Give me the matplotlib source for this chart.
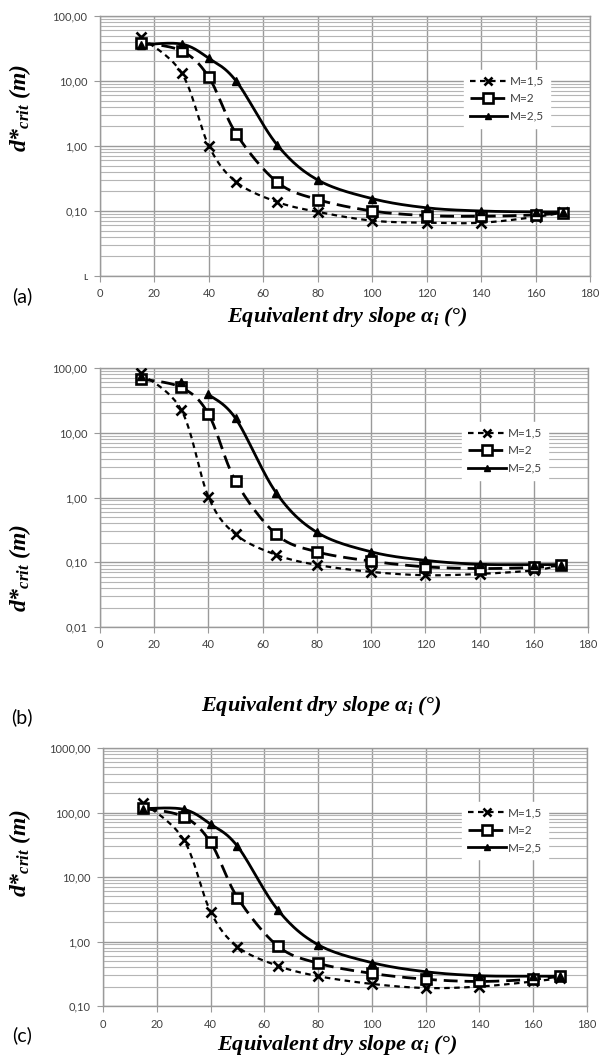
import numpy as np
import matplotlib
matplotlib.use('Agg')
import matplotlib.pyplot as plt
from matplotlib.lines import Line2D

plt.rcParams['mathtext.fontset'] = 'custom'
plt.rcParams['mathtext.it'] = 'Liberation Serif:bold:italic'
plt.rcParams['mathtext.rm'] = 'Liberation Serif:bold:italic'
plt.rcParams['mathtext.bf'] = 'Liberation Serif:bold:italic'

# data
slope = [15, 30, 40, 50, 65, 80, 100, 120, 140, 160, 170]
series_names = ['M=1,5', 'M=2', 'M=2,5']

a_m15 = [47, 13.3, 1.0, 0.28, 0.138, 0.097, 0.071, 0.066, 0.066, 0.081, 0.095]
a_m20 = [39, 29, 11.4, 1.55, 0.28, 0.15, 0.10, 0.085, 0.083, 0.087, 0.094]
a_m25 = [36, 37, 22.3, 10, 1.05, 0.30, 0.155, 0.112, 0.10, 0.097, 0.097]

b_m15 = [83, 22.5, 1.02, 0.27, 0.13, 0.091, 0.071, 0.063, 0.066, 0.075, 0.09]
b_m20 = [68, 50, 19.5, 1.8, 0.27, 0.145, 0.104, 0.085, 0.08, 0.083, 0.09]
b_m25 = [75, 61, 39, 16.7, 1.18, 0.29, 0.145, 0.107, 0.093, 0.092, 0.092]

c_m15 = [142, 38, 2.9, 0.83, 0.42, 0.29, 0.22, 0.19, 0.2, 0.24, 0.27]
c_m20 = [116, 86, 34.5, 4.8, 0.85, 0.46, 0.32, 0.26, 0.24, 0.26, 0.29]
c_m25 = [115, 112, 66, 30, 3.1, 0.89, 0.47, 0.34, 0.295, 0.29, 0.29]

a_ticks = [0.01, 0.1, 1, 10, 100]
a_ticklabels = ['\u029f', '0,10', '1,00', '10,00', '100,00']
b_ticks = [0.01, 0.1, 1, 10, 100]
b_ticklabels = ['0,01', '0,10', '1,00', '10,00', '100,00']
c_ticks = [0.1, 1, 10, 100, 1000]
c_ticklabels = ['0,10', '1,00', '10,00', '100,00', '1000,00']

panels = [
    ('(a)', [a_m15, a_m20, a_m25], a_ticks, a_ticklabels, 0),
    ('(b)', [b_m15, b_m20, b_m25], b_ticks, b_ticklabels, 2),
    ('(c)', [c_m15, c_m20, c_m25], c_ticks, c_ticklabels, 0),
]

styles = [
    dict(ls=(0, (2.5, 2)), lw=1.6, marker='x', ms=6.5, mew=1.9, mfc='black'),
    dict(ls=(0, (5, 2.5)), lw=2.0, marker='s', ms=7.5, mew=1.9, mfc='white'),
    dict(ls='-', lw=2.0, marker='^', ms=5.5, mew=1.0, mfc='black'),
]


def smooth(x, y, n=25):
    # Excel style smoothed line (Catmull-Rom bezier) in log space
    pts = np.column_stack([np.asarray(x, float), np.log10(y)])
    ext = np.vstack([pts[0], pts, pts[-1]])
    t = np.linspace(0, 1, n)[:, None]
    out = []
    for i in range(len(pts) - 1):
        p0, p1, p2, p3 = ext[i], ext[i + 1], ext[i + 2], ext[i + 3]
        c1 = p1 + (p2 - p0) / 6
        c2 = p2 - (p3 - p1) / 6
        seg = (1 - t) ** 3 * p1 + 3 * (1 - t) ** 2 * t * c1 + 3 * (1 - t) * t ** 2 * c2 + t ** 3 * p2
        out.append(seg if i == 0 else seg[1:])
    arr = np.vstack(out)
    return arr[:, 0], 10 ** arr[:, 1]


W, H = 599, 1059
fig = plt.figure(figsize=(W / 100, H / 100), dpi=100)

# axes boxes in pixels: left, top, right, bottom
boxes = [(100, 16, 590, 276), (100, 368, 588, 627), (103, 748, 587, 1006)]
ylab_y = [108, 568, 853]
xlab = [(347, 317), (321, 706), (337, 1045)]
plab_y = [296, 717, 1035]
grid_c = '#9a9a9a'

for k, (tag, ys, yt, ytl, start25) in enumerate(panels):
    l, t, r, b = boxes[k]
    ax = fig.add_axes([l / W, 1 - b / H, (r - l) / W, (b - t) / H])
    ax.set_yscale('log')
    ax.set_xlim(0, 180)
    ax.set_ylim(yt[0], yt[-1])
    ax.set_xticks(range(0, 181, 20))
    ax.set_yticks(yt)
    ax.set_yticklabels(ytl)
    ax.grid(True, which='major', color=grid_c, lw=1.0)
    ax.grid(True, which='minor', axis='y', color='#b5b5b5', lw=0.8)
    ax.tick_params(which='minor', length=0)
    ax.tick_params(which='major', length=4, direction='out', color=grid_c,
                   labelsize=8, labelcolor='#404040', pad=5)
    for lab in ax.get_xticklabels() + ax.get_yticklabels():
        lab.set_fontfamily('Lato')
    for sp in ax.spines.values():
        sp.set_color(grid_c)
        sp.set_linewidth(1.0)
    ax.set_axisbelow(True)

    handles = []
    for j, vals in enumerate(ys):
        st = styles[j]
        s0 = start25 if j == 2 else 0
        sx, sy = smooth(slope[s0:], vals[s0:])
        ax.plot(sx, sy, color='black', ls=st['ls'], lw=st['lw'], zorder=3)
        ax.plot(slope, vals, ls='none', color='black', marker=st['marker'],
                ms=st['ms'], mew=st['mew'], mfc=st['mfc'], mec='black', zorder=4)
        handles.append(Line2D([], [], color='black', ls=st['ls'], lw=st['lw'],
                              marker=st['marker'], ms=st['ms'] - 1, mew=st['mew'],
                              mfc=st['mfc'], mec='black'))
    leg = ax.legend(handles, series_names, loc='upper left',
                    bbox_to_anchor=(0.73, 0.815), frameon=True, fancybox=False,
                    framealpha=1, edgecolor='white', facecolor='white',
                    handlelength=3.2, handletextpad=0.2, labelspacing=0.55,
                    borderpad=0.5, prop={'family': 'Lato', 'size': 8.5})
    for txt in leg.get_texts():
        txt.set_color('#404040')

    fig.text(20 / W, 1 - ylab_y[k] / H, r'd*$_{crit}$ (m)', rotation=90,
             ha='center', va='center', fontsize=17, fontfamily='Liberation Serif',
             fontweight='bold', fontstyle='italic')
    fig.text(xlab[k][0] / W, 1 - xlab[k][1] / H, r'Equivalent dry slope α$_i$ (°)',
             ha='center', va='center', fontsize=16, fontfamily='Liberation Serif',
             fontweight='bold', fontstyle='italic')
    fig.text(22 / W, 1 - plab_y[k] / H, tag, ha='center', va='center',
             fontsize=14, fontfamily='Lato', color='black')

fig.savefig('out.png', dpi=100)
